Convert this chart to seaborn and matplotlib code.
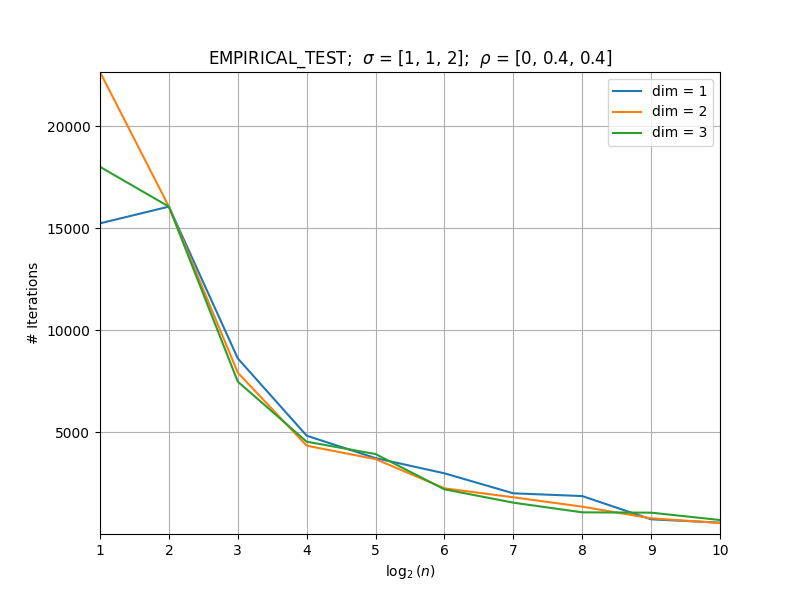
import numpy as np
import pandas as pd
import matplotlib
matplotlib.use('Agg')
import matplotlib.pyplot as plt
import seaborn as sns

log_n = [1, 2, 3, 4, 5, 6, 7, 8, 9, 10]
dim1 = [15230, 16050, 8610, 4820, 3720, 2975, 1995, 1860, 720, 556]
dim2 = [22650, 16050, 7910, 4330, 3670, 2240, 1800, 1340, 768, 540]
dim3 = [18000, 16050, 7470, 4525, 3920, 2190, 1536, 1062, 1046, 686]
dims = [1, 2, 3]

rows = []
for d, vals in zip(dims, [dim1, dim2, dim3]):
    for x, v in zip(log_n, vals):
        rows.append({'log_n': x, 'iters': v, 'dim': 'dim = ' + str(d)})
df = pd.DataFrame(rows)

fig, ax = plt.subplots(figsize=(8, 6), dpi=100)
sns.lineplot(data=df, x='log_n', y='iters', hue='dim',
             palette=['#1f77b4', '#ff7f0e', '#2ca02c'], ax=ax)

ax.set_xlim(1, 10)
ax.set_ylim(0, max(dim2))
ax.set_xticks(log_n)
ax.set_yticks([5000, 10000, 15000, 20000])
ax.grid(True)
ax.set_title(r'EMPIRICAL_TEST;  $\sigma$ = [1, 1, 2];  $\rho$ = [0, 0.4, 0.4]')
ax.set_xlabel(r'$\log_2(n)$')
ax.set_ylabel('# Iterations')
ax.legend(loc='upper right')

plt.savefig('out.png', dpi=100)
